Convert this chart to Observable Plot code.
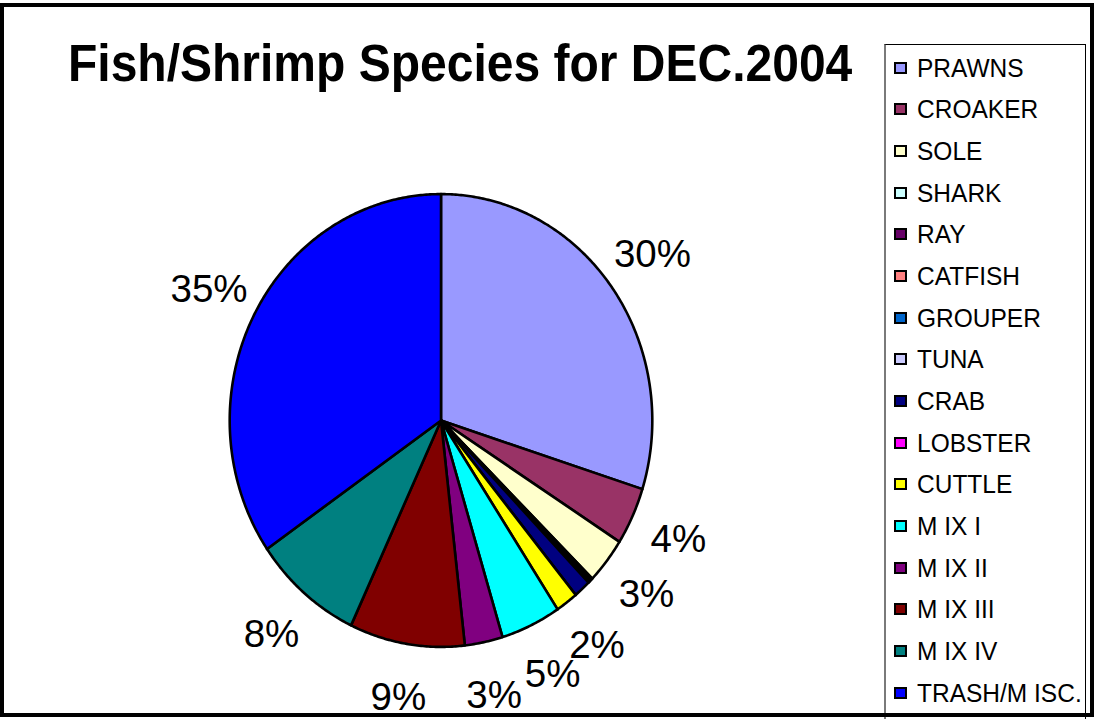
<!DOCTYPE html>
<html>
<head>
<meta charset="utf-8">
<script src="https://cdn.jsdelivr.net/npm/d3@7"></script>
<script src="https://cdn.jsdelivr.net/npm/@observablehq/plot@0.6"></script>
<style>
  html, body { margin: 0; padding: 0; background: #fff; }
  #chart { position: relative; width: 1094px; height: 719px; overflow: hidden;
           font-family: "Liberation Sans", Arial, sans-serif; background: #fff; }
  #frame { position: absolute; left: 0; top: 3px; width: 1094px; height: 714px;
           box-sizing: border-box; border: 4px solid #000; pointer-events: none; z-index: 5; }
  #title { position: absolute; left: 68px; top: 38px; font-size: 48px; font-weight: bold;
           line-height: 48px; white-space: nowrap; transform: scaleY(1.07);
           transform-origin: 0 0; z-index: 3; color: #000; }
  #legend { position: absolute; left: 884px; top: 44px; width: 202px; height: 700px;
            box-sizing: border-box; border: 1px solid #000; border-left: 2px solid #7a7a7a;
            background: #fff; padding-top: 2px; z-index: 2; }
  .item { display: flex; align-items: center; height: 41.67px; }
  .sw { width: 9px; height: 8px; border: 2px solid #000; margin-left: 8px; margin-right: 10px; flex: none; }
  .lab { font-size: 24.5px; display: inline-block; transform: scaleY(1.07); white-space: nowrap; color: #000; }
  #pie { position: absolute; left: 0; top: 0; z-index: 1; }
</style>
</head>
<body>
<div id="chart">
  <div id="pie"></div>
  <div id="title"></div>
  <div id="legend"></div>
  <div id="frame"></div>
</div>
<script>
// Catch composition for December 2004, share of total (%)
const title = "Fish/Shrimp Species for DEC.2004";
const categories = ["PRAWNS", "CROAKER", "SOLE", "SHARK", "RAY", "CATFISH", "GROUPER", "TUNA",
  "CRAB", "LOBSTER", "CUTTLE", "M IX I", "M IX II", "M IX III", "M IX IV", "TRASH/M ISC."];
const values = [29.9, 4.1, 3.3, 0.1, 0.1, 0.1, 0.05, 0.05, 1.3, 0, 1.7, 4.6, 2.9, 8.8, 8.4, 34.6];
const colors = ["#9999ff", "#993366", "#ffffcc", "#ccffff", "#660066", "#ff8080", "#0066cc", "#ccccff",
  "#000080", "#ff00ff", "#ffff00", "#00ffff", "#800080", "#800000", "#008080", "#0000ff"];

// Drawing geometry (pixels)
const W = 860, H = 716;
const cx = 440.5, cy = 420, rx = 211.3, ry = 226.4;
const labelRadius = 1.24;

const rows = categories.map((name, i) => ({name, value: values[i]}));
const total = d3.sum(values);
const arcs = d3.pie().sort(null).value(d => d.value)(rows);

// Each slice as a closed outline in unit-circle coordinates (y grows downward)
const outline = [];
for (const a of arcs) {
  const name = a.data.name;
  outline.push({name, x: 0, y: 0});
  const n = Math.max(2, Math.ceil((a.endAngle - a.startAngle) / (Math.PI / 360)));
  for (let k = 0; k <= n; k++) {
    const t = a.startAngle + (a.endAngle - a.startAngle) * k / n;
    outline.push({name, x: Math.sin(t), y: -Math.cos(t)});
  }
  outline.push({name, x: 0, y: 0});
}

const labels = arcs
  .filter(a => a.data.value / total * 100 >= 1.5)
  .map(a => {
    const t = (a.startAngle + a.endAngle) / 2;
    return {x: labelRadius * Math.sin(t), y: -labelRadius * Math.cos(t),
            text: Math.round(a.data.value / total * 100) + "%"};
  });

const chart = Plot.plot({
  width: W,
  height: H,
  margin: 0,
  x: {domain: [-cx / rx, (W - cx) / rx], axis: null},
  y: {domain: [-cy / ry, (H - cy) / ry], range: [0, H], axis: null},
  color: {domain: categories, range: colors},
  style: {background: "transparent", overflow: "visible"},
  marks: [
    Plot.line(outline, {x: "x", y: "y", z: "name", fill: "name", stroke: "#000",
      strokeWidth: 2.6, strokeLinejoin: "round"}),
    Plot.text(labels, {x: "x", y: "y", text: "text", fontSize: 38.5,
      fontFamily: "Liberation Sans, Arial, sans-serif", fill: "#000"})
  ]
});
document.getElementById("pie").appendChild(chart);

document.getElementById("title").textContent = title;

const legend = d3.select("#legend");
categories.forEach((name, i) => {
  const item = legend.append("div").attr("class", "item");
  item.append("div").attr("class", "sw").style("background", colors[i]);
  item.append("span").attr("class", "lab").text(name);
});
</script>
</body>
</html>
